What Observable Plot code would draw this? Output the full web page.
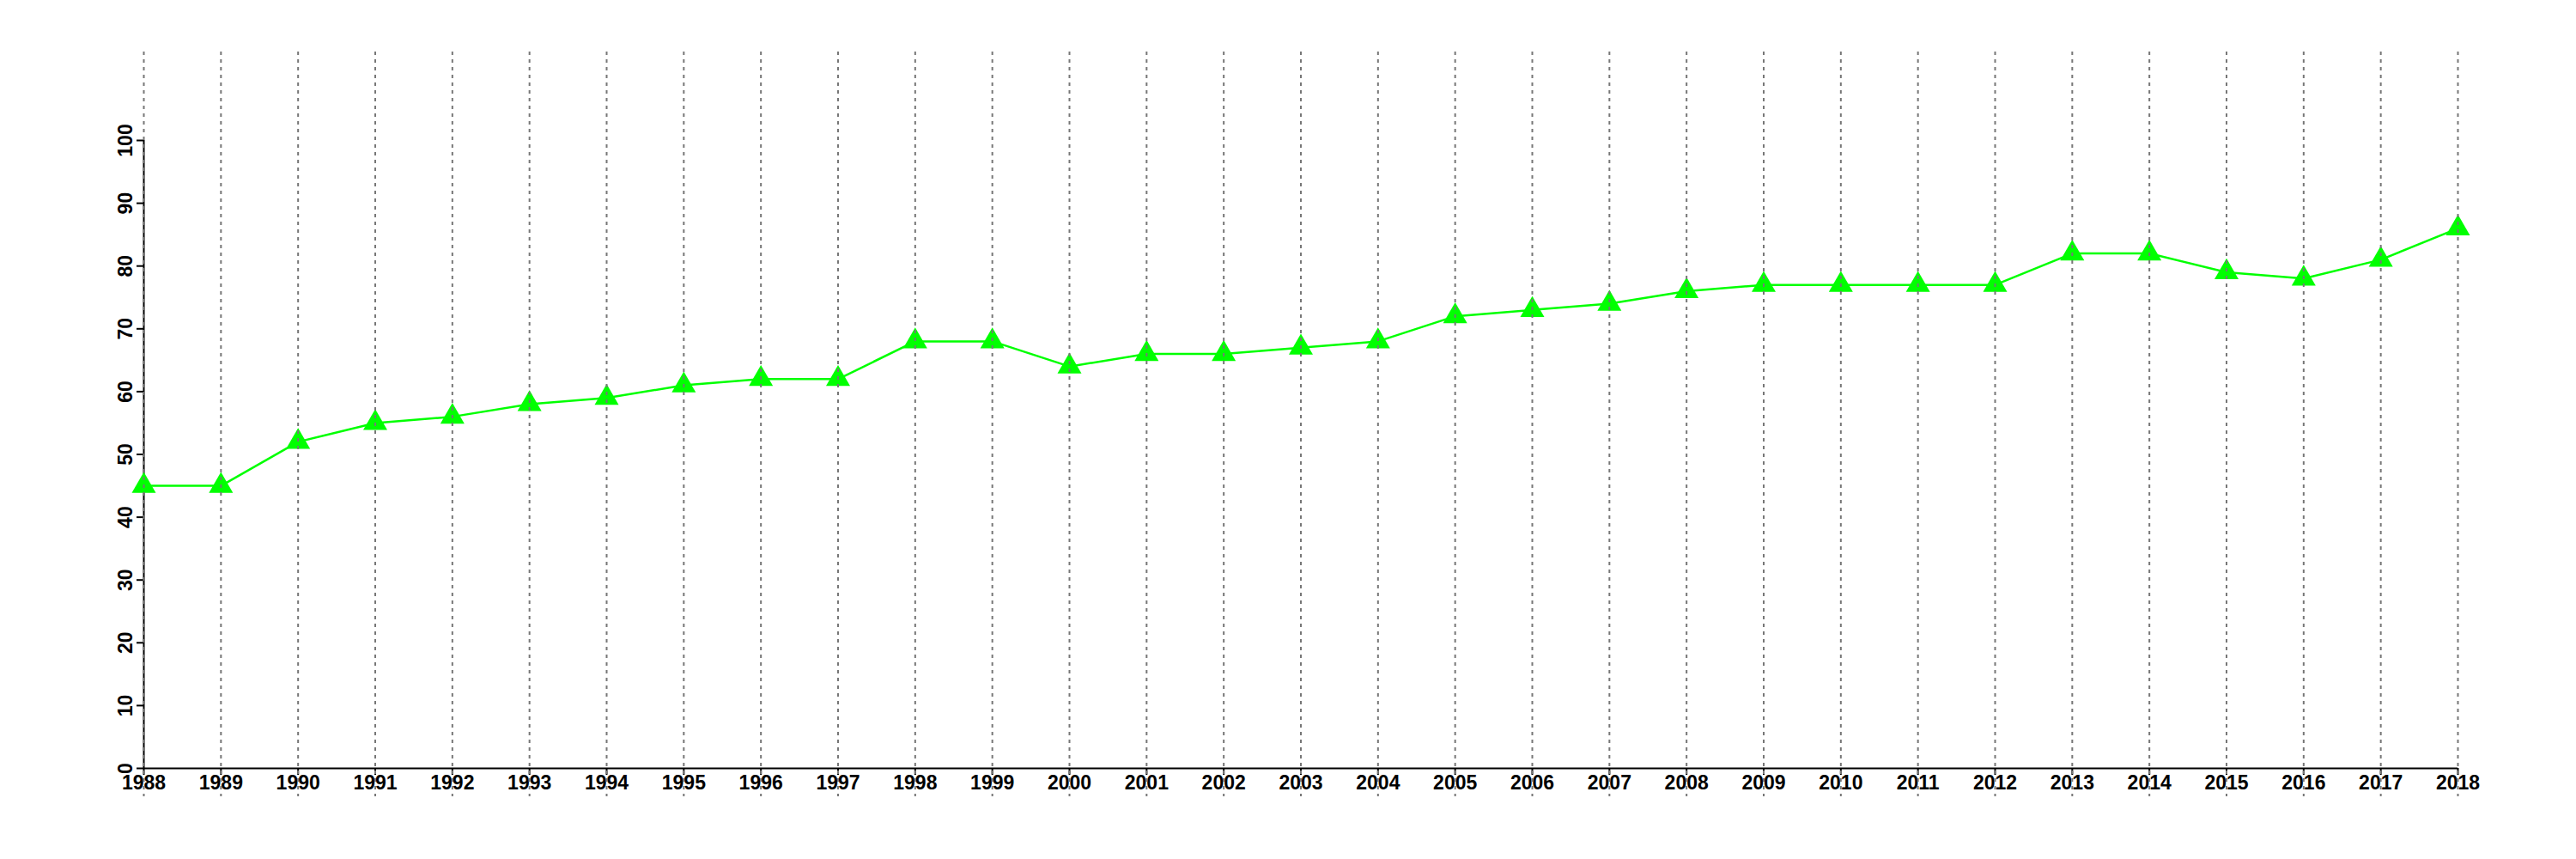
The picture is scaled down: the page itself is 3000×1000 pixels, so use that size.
<!DOCTYPE html>
<html><head><meta charset="utf-8">
<script src="https://cdn.jsdelivr.net/npm/d3@7"></script>
<script src="https://cdn.jsdelivr.net/npm/@observablehq/plot@0.6"></script>
<style>body{margin:0;background:#fff}</style>
</head><body><div id="chart"></div>
<script>
const years = [1988,1989,1990,1991,1992,1993,1994,1995,1996,1997,1998,1999,2000,2001,2002,2003,2004,2005,2006,2007,2008,2009,2010,2011,2012,2013,2014,2015,2016,2017,2018];
const values = [45,45,52,55,56,58,59,61,62,62,68,68,64,66,66,67,68,72,73,74,76,77,77,77,77,82,82,79,78,81,86];
const yTicks = [0,10,20,30,40,50,60,70,80,90,100];
const data = years.map((year, i) => ({year, value: values[i]}));

const chart = Plot.plot({
  width: 3000, height: 1000,
  marginLeft: 167, marginRight: 138, marginTop: 163, marginBottom: 106,
  style: {fontFamily: "'Liberation Sans', Arial, sans-serif", fontSize: "23px", fontWeight: "bold", background: "#fff", color: "#000", overflow: "visible"},
  x: {domain: [years[0], years[years.length - 1]]},
  y: {domain: [yTicks[0], yTicks[yTicks.length - 1]]},
  marks: [
    Plot.ruleX([years[0]], {y1: yTicks[0], y2: yTicks[yTicks.length - 1], stroke: "#000", strokeWidth: 2}),
    Plot.ruleY([yTicks[0]], {x1: years[0], x2: years[years.length - 1], stroke: "#000", strokeWidth: 2}),
    Plot.axisX(years, {tickSize: 8, tickPadding: 0, tickFormat: d => String(d), label: null, strokeWidth: 2}),
    Plot.axisY(yTicks, {tickSize: 8, tickPadding: 6, tickRotate: -90, label: null, strokeWidth: 2}),
    Plot.line(data, {x: "year", y: "value", stroke: "#00ff00", strokeWidth: 2.5}),
    Plot.dot(data, {x: "year", y: "value", symbol: "triangle", r: 10.4, fill: "#00ff00", stroke: "none"}),
    Plot.gridX(years, {stroke: "#777", strokeOpacity: 1, strokeWidth: 2, strokeDasharray: "4,5", insetTop: -103, insetBottom: -33})
  ]
});
document.getElementById("chart").appendChild(chart);
</script>
</body></html>
